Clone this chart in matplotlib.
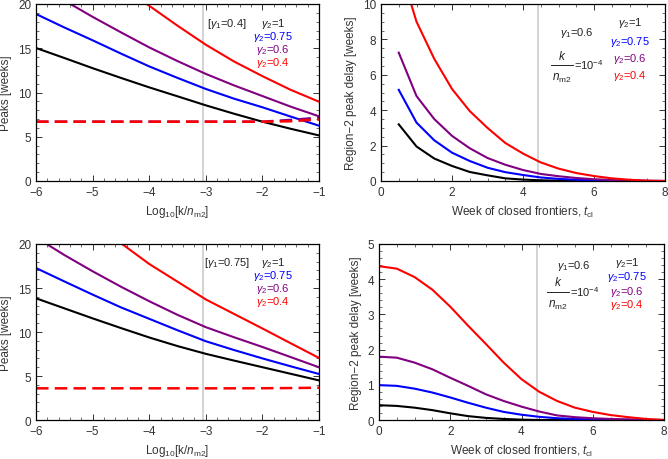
import matplotlib
matplotlib.use("Agg")

import numpy as np
import matplotlib.pyplot as plt
from matplotlib.lines import Line2D
from matplotlib.ticker import MultipleLocator

plt.rcParams['font.family'] = ['Liberation Sans', 'DejaVu Sans']
plt.rcParams['mathtext.fontset'] = 'custom'
plt.rcParams['mathtext.rm'] = 'Liberation Sans'
plt.rcParams['mathtext.it'] = 'Liberation Sans:italic'
plt.rcParams['font.size'] = 8.5

# ---- data ----
gammas = ["1", "0.75", "0.6", "0.4"]
colors = ["black", "#0000ff", "#800080", "#ff0000"]

# top-left: peaks vs log10(k/n_m2), gamma1 = 0.4
logk = [-6.0, -5.5, -5.0, -4.5, -4.0, -3.5, -3.0, -2.5, -2.0, -1.5, -1.0]
peaks_a = [
    [15.03, 13.9, 12.75, 11.65, 10.58, 9.57, 8.55, 7.6, 6.7, 5.9, 5.15],
    [18.87, 17.35, 15.9, 14.4, 12.95, 11.65, 10.4, 9.3, 8.33, 7.28, 6.25],
    [22.2, 20.4, 18.55, 16.8, 15.1, 13.55, 12.1, 10.8, 9.6, 8.4, 7.31],
    [29.0, 26.6, 24.3, 22.0, 19.8, 17.55, 15.4, 13.5, 11.85, 10.3, 8.96],
]
dash_a = [6.7, 6.7, 6.7, 6.7, 6.7, 6.7, 6.7, 6.7, 6.7, 6.75, 6.95]
dash_a2 = [6.7, 6.7, 6.7, 6.7, 6.7, 6.7, 6.7, 6.7, 6.7, 6.9, 7.15]

# bottom-left: gamma1 = 0.75
peaks_b = [
    [13.83, 12.69, 11.55, 10.45, 9.38, 8.4, 7.52, 6.75, 6.0, 5.25, 4.5],
    [17.27, 15.75, 14.25, 12.8, 11.5, 10.2, 8.95, 7.95, 7.0, 6.1, 5.23],
    [20.75, 18.75, 16.9, 15.15, 13.5, 11.95, 10.55, 9.4, 8.3, 7.15, 5.99],
    [27.6, 25.1, 22.6, 20.1, 17.73, 15.72, 13.7, 12.05, 10.4, 8.72, 7.05],
]
dash_b = [3.6, 3.6, 3.6, 3.6, 3.6, 3.6, 3.6, 3.6, 3.61, 3.63, 3.67]

# top-right: delay vs week of closed frontiers
t_c = [0.5, 1.0, 1.5, 2.0, 2.5, 3.0, 3.5, 4.0, 4.5, 5.0, 5.5, 6.0, 6.5, 7.0, 7.5, 8.0]
delay_c = [
    [3.2, 1.95, 1.27, 0.85, 0.51, 0.32, 0.15, 0.08, 0.04, 0.02, 0.01, 0.005, 0.0, 0.0, 0.0, 0.0],
    [5.15, 3.3, 2.3, 1.6, 1.13, 0.75, 0.5, 0.34, 0.2, 0.12, 0.07, 0.04, 0.02, 0.01, 0.0, 0.0],
    [7.25, 4.8, 3.5, 2.55, 1.85, 1.3, 0.92, 0.62, 0.4, 0.27, 0.17, 0.1, 0.06, 0.03, 0.01, 0.0],
    [12.3, 9.0, 6.9, 5.2, 3.95, 3.0, 2.15, 1.55, 1.05, 0.7, 0.45, 0.28, 0.15, 0.07, 0.02, 0.0],
]

# bottom-right
t_d = [0.0, 0.5, 1.0, 1.5, 2.0, 2.5, 3.0, 3.5, 4.0, 4.5, 5.0, 5.5, 6.0, 6.5, 7.0, 7.5, 8.0]
delay_d = [
    [0.42, 0.4, 0.35, 0.28, 0.19, 0.11, 0.06, 0.03, 0.01, 0.0, 0.0, 0.0, 0.0, 0.0, 0.0, 0.0, 0.0],
    [0.99, 0.97, 0.89, 0.78, 0.64, 0.49, 0.35, 0.23, 0.15, 0.09, 0.05, 0.03, 0.015, 0.01, 0.005, 0.0, 0.0],
    [1.8, 1.77, 1.63, 1.44, 1.2, 0.97, 0.73, 0.54, 0.38, 0.24, 0.13, 0.08, 0.05, 0.03, 0.015, 0.005, 0.0],
    [4.37, 4.3, 4.06, 3.7, 3.22, 2.68, 2.16, 1.63, 1.16, 0.8, 0.54, 0.35, 0.23, 0.14, 0.08, 0.03, 0.0],
]

vline_left = -3.05
vline_right = 4.43

W, H = 668, 460
fig = plt.figure(figsize=(W / 100, H / 100), dpi=100)
TXT = '#222222'


def box(l, t, r, b):
    return [l / W, 1 - b / H, (r - l) / W, (b - t) / H]


def ftext(x, y, s, color=TXT, size=8):
    # place text by pixel position in the figure
    fig.text(x / W, 1 - y / H, s, color=color, ha='center', va='center', fontsize=size)


def fraction(xc, ybar):
    # k / n_m2 = 10^-4, built from pieces so it is drawn large like the original
    ftext(xc, ybar - 10, r"$k$", size=8.5)
    ftext(xc, ybar + 12, r"$n_{\rm m2}$", size=8.5)
    fig.add_artist(Line2D([(xc - 11) / W, (xc + 11) / W], [1 - ybar / H, 1 - ybar / H],
                          color=TXT, lw=0.7))
    fig.text((xc + 12) / W, 1 - (ybar + 4) / H, r"=10$^{-4}$", color=TXT,
             ha='left', va='baseline', fontsize=8)


def style(ax, xmaj, xmin, ymaj, ymin):
    ax.xaxis.set_major_locator(MultipleLocator(xmaj))
    ax.xaxis.set_minor_locator(MultipleLocator(xmin))
    ax.yaxis.set_major_locator(MultipleLocator(ymaj))
    ax.yaxis.set_minor_locator(MultipleLocator(ymin))
    ax.tick_params(which='both', direction='in', top=True, right=True,
                   colors='#333333', labelsize=8.5)
    ax.tick_params(which='major', length=4, width=0.7)
    ax.tick_params(which='minor', length=2, width=0.5)
    for s in ax.spines.values():
        s.set_linewidth(0.9)


def gamma_labels(x, ys):
    for g, c, y in zip(gammas, colors, ys):
        ftext(x, y, r"$\gamma_2$=" + g, color=c if c != "black" else TXT)


ax1 = fig.add_axes(box(36, 5, 319, 182))
ax2 = fig.add_axes(box(381, 5, 665, 182))
ax3 = fig.add_axes(box(36, 245, 319, 421))
ax4 = fig.add_axes(box(379, 245, 664, 421))

for ax, peaks, dash in [(ax1, peaks_a, dash_a), (ax3, peaks_b, dash_b)]:
    ax.axvline(vline_left, color='#d0d0d0', lw=1.3)
    for p, c in zip(peaks, colors):
        ax.plot(logk, p, color=c, lw=1.5)
    if ax is ax1:
        ax.plot(logk, dash_a2, color='#800080', lw=1.8, ls=(0, (5, 2.5)))
    ax.plot(logk, dash, color='red', lw=1.8, ls=(0, (5, 2.5)))
    ax.set_xlim(-6, -1)
    ax.set_ylim(0, 20)
    style(ax, 1, 0.2, 5, 1)
    ax.set_xlabel(r"Log$_{10}$[k/$n_{\rm m2}$]", color='#333333', fontsize=8.5)
    ax.set_ylabel("Peaks [weeks]", color='#333333', fontsize=8.5)

for ax, t, d, ymax, ymaj, ymin in [(ax2, t_c, delay_c, 10, 2, 0.5),
                                   (ax4, t_d, delay_d, 5, 1, 0.2)]:
    ax.axvline(vline_right, color='#d0d0d0', lw=1.3)
    for v, c in zip(d, colors):
        ax.plot(t, v, color=c, lw=1.5)
    ax.set_xlim(0, 8)
    ax.set_ylim(0, ymax)
    style(ax, 2, 0.5, ymaj, ymin)
    ax.set_xlabel(r"Week of closed frontiers, $t_{\rm cl}$", color='#333333', fontsize=8.5)
    ax.set_ylabel("Region\u22122 peak delay [weeks]", color='#333333', fontsize=8.5)

# annotations
ftext(227, 24, r"[$\gamma_1$=0.4]")
gamma_labels(273, [24, 37, 50, 63])
ftext(227, 263, r"[$\gamma_1$=0.75]")
gamma_labels(273, [263, 276, 289, 302])

ftext(577, 33, r"$\gamma_1$=0.6")
fraction(562, 66)
gamma_labels(630, [23, 42, 59, 76])

ftext(574, 266, r"$\gamma_1$=0.6")
fraction(558, 293)
gamma_labels(627, [263, 277, 292, 305])

fig.savefig("out.png", dpi=100)
